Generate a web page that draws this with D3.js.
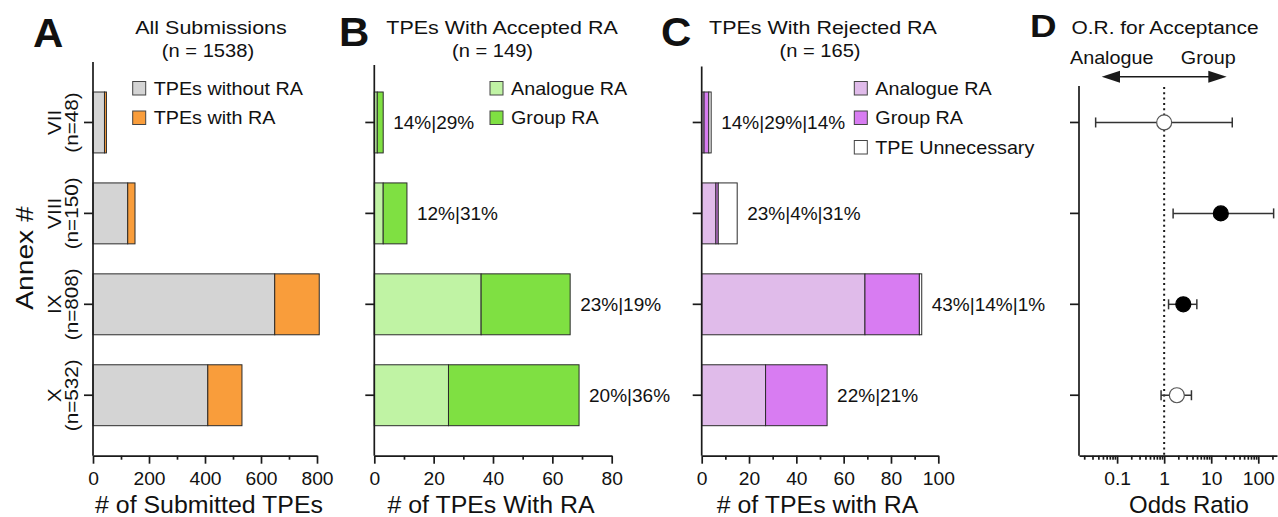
<!DOCTYPE html>
<html>
<head>
<meta charset="utf-8">
<script src="https://cdn.jsdelivr.net/npm/d3@7"></script>
<style>
  body { margin: 0; background: #fff; }
  svg text { font-family: "Liberation Sans", Arial, Helvetica, sans-serif; fill: #111; }
</style>
</head>
<body>
<svg id="chart" width="1278" height="517"></svg>
<script>
// Annexes shown as rows (top to bottom) and their submission counts
const annexes = ["VII", "VIII", "IX", "X"];
const annexN = [48, 150, 808, 532];

// Panel A: submitted TPEs with / without a read-across (RA)
const withoutRA = [41, 124, 649, 410];
const withRA = [7, 26, 159, 122];

// Panel B: TPEs whose RA was accepted
const acceptedAnalogue = [1, 3, 36, 25];
const acceptedGroup = [2, 8, 30, 44];

// Panel C: TPEs whose RA was rejected
const rejectedAnalogue = [1, 6, 69, 27];
const rejectedGroup = [2, 1, 23, 26];
const rejectedUnnecessary = [1, 8, 1, 0];

// Panel D: odds ratio of acceptance (group vs analogue RA), 95% CI
const oddsRatio = [1.0, 16, 2.55, 1.86];
const ciLow = [0.035, 1.55, 1.24, 0.86];
const ciHigh = [28, 212, 4.95, 3.8];
const significant = [false, true, true, false];

// Axis tick labels
const ticksA = [0, 200, 400, 600, 800], minorA = [100, 300, 500, 700];
const ticksB = [0, 20, 40, 60, 80], minorB = [10, 30, 50, 70];
const ticksC = [0, 20, 40, 60, 80, 100], minorC = [10, 30, 50, 70, 90];
const ticksD = [0.1, 1, 10, 100];

const svg = d3.select("#chart");
const AXIS_Y = 455.7;
const INK = "#1a1a1a";

const y = d3.scaleBand().domain(annexes).range([62, AXIS_Y]).padding(0.33);

// text helper: position, optional rotation, horizontal stretch
function label(parent, s, x, yy, o = {}) {
  const t = parent.append("text")
    .attr("transform", `translate(${x},${yy})${o.rotate ? ` rotate(${o.rotate})` : ""} scale(${o.k || 1},1)`)
    .attr("text-anchor", o.anchor || "start")
    .attr("font-size", o.size || 18)
    .text(s);
  if (o.bold) t.attr("font-weight", "bold");
  if (o.dy) t.attr("dy", o.dy);
  return t;
}

function styleAxis(g) {
  g.attr("color", INK);
  g.selectAll("path, line").attr("stroke-width", 1.7);
}

function yAxis(x0, top) {
  const g = svg.append("g").attr("transform", `translate(${x0},0)`)
    .call(d3.axisLeft(y).tickSize(9).tickSizeOuter(0).tickFormat(""));
  g.select(".domain").attr("d", `M0,${top}V${AXIS_Y}`);
  styleAxis(g);
  return g;
}

function xAxis(x, major, minor, fmt) {
  const gm = svg.append("g").attr("transform", `translate(0,${AXIS_Y})`)
    .call(d3.axisBottom(x).tickValues(minor).tickSize(4).tickFormat(""));
  gm.select(".domain").remove();
  styleAxis(gm);
  const ga = svg.append("g").attr("transform", `translate(0,${AXIS_Y})`)
    .call(d3.axisBottom(x).tickValues(major).tickSize(8).tickSizeOuter(0).tickFormat(fmt || (d => d)));
  styleAxis(ga);
  ga.selectAll(".tick text")
    .attr("y", null).attr("dy", null)
    .attr("font-size", 17.5)
    .attr("transform", "translate(0,28.8) scale(1.1,1)");
  return ga;
}

function stackedBars(x, keys, data, colors) {
  const series = d3.stack().keys(keys)(data);
  const g = svg.append("g");
  series.forEach((s, si) => {
    g.selectAll(null).data(s).join("rect")
      .attr("x", d => x(d[0]))
      .attr("y", d => y(d.data.annex))
      .attr("width", d => x(d[1]) - x(d[0]))
      .attr("height", y.bandwidth())
      .attr("fill", colors[si])
      .attr("stroke", "#2b2b2b")
      .attr("stroke-width", 1)
      .attr("display", d => (d[1] - d[0]) > 0 ? null : "none");
  });
}

function legend(x0, items) {
  items.forEach((it, i) => {
    const top = 81.5 + i * 29.5;
    svg.append("rect").attr("x", x0).attr("y", top).attr("width", 13).attr("height", 13.5)
      .attr("fill", it.color).attr("stroke", "#444").attr("stroke-width", 1);
    label(svg, it.text, x0 + 21, top + 13, { size: 18.8, k: 1.05 });
  });
}

function pctLabels(x, parts) {
  annexes.forEach((a, i) => {
    const vals = parts.map(p => p[i]);
    const total = d3.sum(vals);
    const txt = vals.filter(v => v > 0).map(v => Math.round(v / withRA[i] * 100) + "%").join("|");
    label(svg, txt, x(total) + 10, y(a) + y.bandwidth() / 2, { size: 19, dy: "0.35em" });
  });
}

/* ---------------- Panel A ---------------- */
const xA = d3.scaleLinear().domain([0, 800]).range([93, 317]);
const dataA = annexes.map((a, i) => ({ annex: a, without: withoutRA[i], with: withRA[i] }));
stackedBars(xA, ["without", "with"], dataA, ["#d4d4d4", "#f99d3b"]);
yAxis(93, 62);
xAxis(xA, ticksA, minorA);
annexes.forEach((a, i) => {
  const cy = y(a) + y.bandwidth() / 2;
  label(svg, a, 60.5, cy, { rotate: -90, anchor: "middle", size: 18, k: 1.15 });
  label(svg, `(n=${annexN[i]})`, 77.5, cy, { rotate: -90, anchor: "middle", size: 18, k: 1.15 });
});
label(svg, "Annex #", 33, 258, { rotate: -90, anchor: "middle", size: 23.5, k: 1.2 });
label(svg, "# of Submitted TPEs", 209, 512.5, { anchor: "middle", size: 23.5, k: 1.06 });
label(svg, "All Submissions", 211, 33.5, { anchor: "middle", size: 19, k: 1.13 });
label(svg, `(n = ${d3.sum(annexN)})`, 208, 57, { anchor: "middle", size: 19, k: 1.06 });
label(svg, "A", 33, 47, { size: 40, bold: true, k: 1.05 });
legend(132.7, [
  { text: "TPEs without RA", color: "#d4d4d4" },
  { text: "TPEs with RA", color: "#f99d3b" }
]);

/* ---------------- Panel B ---------------- */
const xB = d3.scaleLinear().domain([0, 80]).range([374.3, 611.7]);
const dataB = annexes.map((a, i) => ({ annex: a, analogue: acceptedAnalogue[i], group: acceptedGroup[i] }));
stackedBars(xB, ["analogue", "group"], dataB, ["#c0f3a4", "#7fe042"]);
yAxis(374.3, 65);
xAxis(xB, ticksB, minorB);
pctLabels(xB, [acceptedAnalogue, acceptedGroup]);
label(svg, "# of TPEs With RA", 491, 512.5, { anchor: "middle", size: 23.5, k: 1.06 });
label(svg, "TPEs With Accepted RA", 502, 33.5, { anchor: "middle", size: 19, k: 1.13 });
label(svg, `(n = ${d3.sum(acceptedAnalogue) + d3.sum(acceptedGroup)})`, 492.5, 57, { anchor: "middle", size: 19, k: 1.06 });
label(svg, "B", 339, 46, { size: 40, bold: true, k: 1.05 });
legend(490, [
  { text: "Analogue RA", color: "#c0f3a4" },
  { text: "Group RA", color: "#7fe042" }
]);

/* ---------------- Panel C ---------------- */
const xC = d3.scaleLinear().domain([0, 100]).range([701.7, 938.3]);
const dataC = annexes.map((a, i) => ({
  annex: a, analogue: rejectedAnalogue[i], group: rejectedGroup[i], unnecessary: rejectedUnnecessary[i]
}));
stackedBars(xC, ["analogue", "group", "unnecessary"], dataC, ["#e0bbea", "#d87cf2", "#ffffff"]);
yAxis(701.7, 66.5);
xAxis(xC, ticksC, minorC);
pctLabels(xC, [rejectedAnalogue, rejectedGroup, rejectedUnnecessary]);
label(svg, "# of TPEs with RA", 817.5, 512.5, { anchor: "middle", size: 23.5, k: 1.06 });
label(svg, "TPEs With Rejected RA", 823, 33.5, { anchor: "middle", size: 19, k: 1.13 });
label(svg, `(n = ${d3.sum(rejectedAnalogue) + d3.sum(rejectedGroup) + d3.sum(rejectedUnnecessary)})`, 820, 57, { anchor: "middle", size: 19, k: 1.06 });
label(svg, "C", 661, 46, { size: 40, bold: true, k: 1.05 });
legend(854.3, [
  { text: "Analogue RA", color: "#e0bbea" },
  { text: "Group RA", color: "#d87cf2" },
  { text: "TPE Unnecessary", color: "#ffffff" }
]);

/* ---------------- Panel D ---------------- */
const xD = d3.scaleLog().domain([0.0155, 250]).range([1079, 1277]);
const minorD = xD.ticks().filter(v => Math.abs(Math.log10(v) - Math.round(Math.log10(v))) > 1e-6);
yAxis(1079, 86);
xAxis(xD, ticksD, minorD, d => String(d));

// reference line at OR = 1
svg.append("line")
  .attr("x1", xD(1)).attr("x2", xD(1)).attr("y1", 87).attr("y2", AXIS_Y)
  .attr("stroke", INK).attr("stroke-width", 2).attr("stroke-dasharray", "2,3.3");

const gD = svg.append("g");
annexes.forEach((a, i) => {
  const cy = y(a) + y.bandwidth() / 2;
  const x1 = xD(ciLow[i]), x2 = xD(ciHigh[i]);
  gD.append("line").attr("x1", x1).attr("x2", x2).attr("y1", cy).attr("y2", cy)
    .attr("stroke", "#333").attr("stroke-width", 1.5);
  [x1, x2].forEach(xx => gD.append("line").attr("x1", xx).attr("x2", xx)
    .attr("y1", cy - 5).attr("y2", cy + 5).attr("stroke", "#333").attr("stroke-width", 1.5));
  gD.append("circle").attr("cx", xD(oddsRatio[i])).attr("cy", cy).attr("r", 7.5)
    .attr("fill", significant[i] ? "#000" : "#fff")
    .attr("stroke", significant[i] ? "#000" : "#555").attr("stroke-width", 1.2);
});

// direction arrow: analogue favoured <-> group favoured
const arrowY = 76.7;
svg.append("line").attr("x1", 1110).attr("x2", 1218).attr("y1", arrowY).attr("y2", arrowY)
  .attr("stroke", INK).attr("stroke-width", 1.5);
svg.append("path").attr("d", `M1101.7,${arrowY}L1120,${arrowY - 6}L1120,${arrowY + 6}Z`).attr("fill", INK);
svg.append("path").attr("d", `M1226.7,${arrowY}L1208.3,${arrowY - 6}L1208.3,${arrowY + 6}Z`).attr("fill", INK);
label(svg, "Analogue", 1111.7, 64, { anchor: "middle", size: 19, k: 1.04 });
label(svg, "Group", 1208.3, 64, { anchor: "middle", size: 19, k: 1.04 });

label(svg, "Odds Ratio", 1189, 512.5, { anchor: "middle", size: 23.5, k: 1.02 });
label(svg, "O.R. for Acceptance", 1165, 33.5, { anchor: "middle", size: 19, k: 1.1 });
label(svg, "D", 1030, 37, { size: 32, bold: true, k: 1.15 });
</script>
</body>
</html>
